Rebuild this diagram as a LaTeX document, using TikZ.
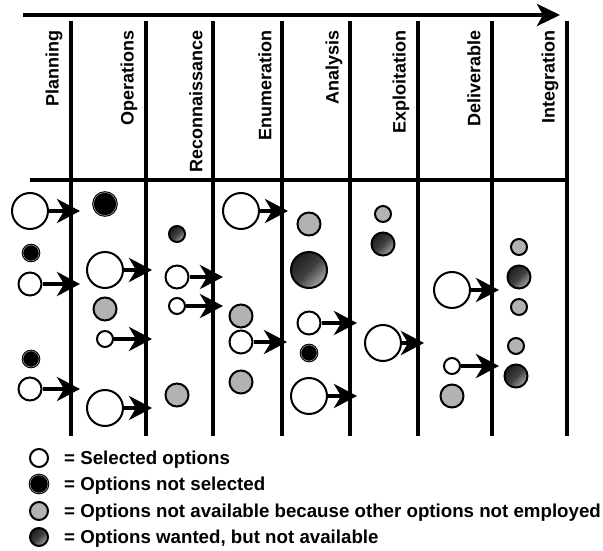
\documentclass[tikz,border=0pt]{standalone}
\usepackage{fontspec}
\setmainfont{Liberation Sans}
\usetikzlibrary{arrows.meta}
\definecolor{nagray}{gray}{0.70}
\tikzset{
  phase/.style={rotate=90,anchor=east,inner sep=0pt,font=\fontsize{18}{20}\selectfont\bfseries},
  keytxt/.style={anchor=base west,inner sep=0pt,font=\fontsize{18.7}{20}\selectfont\bfseries},
  sep/.style={line width=4pt},
  timeline/.style={line width=4.5pt,-{Stealth[length=23pt,width=22pt,inset=6pt]}},
  optarr/.style={line width=4.5pt,-{Stealth[length=23pt,width=24pt,inset=7pt]}},
  opt/.style={circle,draw=black,line width=2pt,inner sep=0pt},
  sel/.style={opt,fill=white},
  nosel/.style={opt,fill=black,line width=1pt,double=black!45,double distance=0.6pt},
  na/.style={opt,fill=nagray},
  wanted/.style={opt,top color=black!88,bottom color=black!35,middle color=black!75,shading angle=45},
  szL/.style={minimum size=36pt},
  szM/.style={minimum size=23pt},
  szS/.style={minimum size=16pt},
  szK/.style={minimum size=18pt},
}
\begin{document}
\begin{tikzpicture}[x=1pt,y=-1pt]
  \useasboundingbox (0,0) rectangle (603,551);
  % time axis and phase columns
  \coordinate (t0) at (23,15);
  \coordinate (t1) at (560,15);
  \draw[timeline] (t0) -- (t1);
  \foreach \x in {71,146,213,282,350,418,492,567}
    \draw[sep] (\x,21) -- (\x,436);
  \draw[sep] (30,180) -- (567,180);
  \node[phase] (planlbl) at (54,30) {Planning};
  \node[phase] (operlbl) at (129,30) {Operations};
  \node[phase] (reconlbl) at (196,30) {Reconnaissance};
  \node[phase] (enumlbl) at (265,30) {Enumeration};
  \node[phase] (anallbl) at (334,30) {Analysis};
  \node[phase] (expllbl) at (401,30) {Exploitation};
  \node[phase] (delilbl) at (474,30) {Deliverable};
  \node[phase] (integlbl) at (550,30) {Integration};
  % options per phase
  \node[sel,szL] (plan1) at (30,211) {};
  \node[nosel,szS] (plan2) at (31,253) {};
  \node[sel,szM] (plan3) at (30,284) {};
  \node[nosel,szS] (plan4) at (31,359) {};
  \node[sel,szM] (plan5) at (30,389) {};
  \node[nosel,szM] (oper1) at (105,204) {};
  \node[sel,szL] (oper2) at (105,270) {};
  \node[na,szM] (oper3) at (105,309) {};
  \node[sel,szS] (oper4) at (105,339) {};
  \node[sel,szL] (oper5) at (105,408) {};
  \node[wanted,szS] (recon1) at (177,234) {};
  \node[sel,szM] (recon2) at (177,277) {};
  \node[sel,szS] (recon3) at (177,306) {};
  \node[na,szM] (recon4) at (177,395) {};
  \node[sel,szL] (enum1) at (241,211) {};
  \node[na,szM] (enum2) at (241,316) {};
  \node[sel,szM] (enum3) at (241,342) {};
  \node[na,szM] (enum4) at (241,382) {};
  \node[na,szM] (anal1) at (309,224) {};
  \node[wanted,szL] (anal2) at (309,270) {};
  \node[sel,szM] (anal3) at (309,323) {};
  \node[nosel,szS] (anal4) at (309,353) {};
  \node[sel,szL] (anal5) at (309,396) {};
  \node[na,szS] (expl1) at (383,214) {};
  \node[wanted,szM] (expl2) at (383,244) {};
  \node[sel,szL] (expl3) at (383,343) {};
  \node[sel,szL] (deli1) at (452,290) {};
  \node[sel,szS] (deli2) at (452,366) {};
  \node[na,szM] (deli3) at (452,396) {};
  \node[na,szS] (integ1) at (519,247) {};
  \node[wanted,szM] (integ2) at (519,277) {};
  \node[na,szS] (integ3) at (519,307) {};
  \node[na,szS] (integ4) at (516,346) {};
  \node[wanted,szM] (integ5) at (516,376) {};
  % selected options carried into the next phase
  \foreach \n/\x in {plan1/80,plan3/80,plan5/80,oper2/152,oper4/152,oper5/152,
      recon2/223,recon3/223,enum1/288,enum3/287,anal3/357,anal5/357,
      expl3/424,deli1/499,deli2/499} {
    \coordinate (\n tip) at (\n -| \x,0);
    \draw[optarr] (\n.east) -- (\n tip);
  }
  % key
  \node[sel,szK] (keysel) at (39,458) {};
  \node[nosel,szK] (keynosel) at (39,484) {};
  \node[na,szK] (keyna) at (39,511) {};
  \node[wanted,szK] (keywanted) at (39,537) {};
  \node[keytxt] (keyseltxt) at (64,464.5) {= Selected options};
  \node[keytxt] (keynoseltxt) at (64,490.5) {= Options not selected};
  \node[keytxt] (keynatxt) at (64,517.5) {= Options not available because other options not employed};
  \node[keytxt] (keywantedtxt) at (64,543.5) {= Options wanted, but not available};
\end{tikzpicture}
\end{document}
